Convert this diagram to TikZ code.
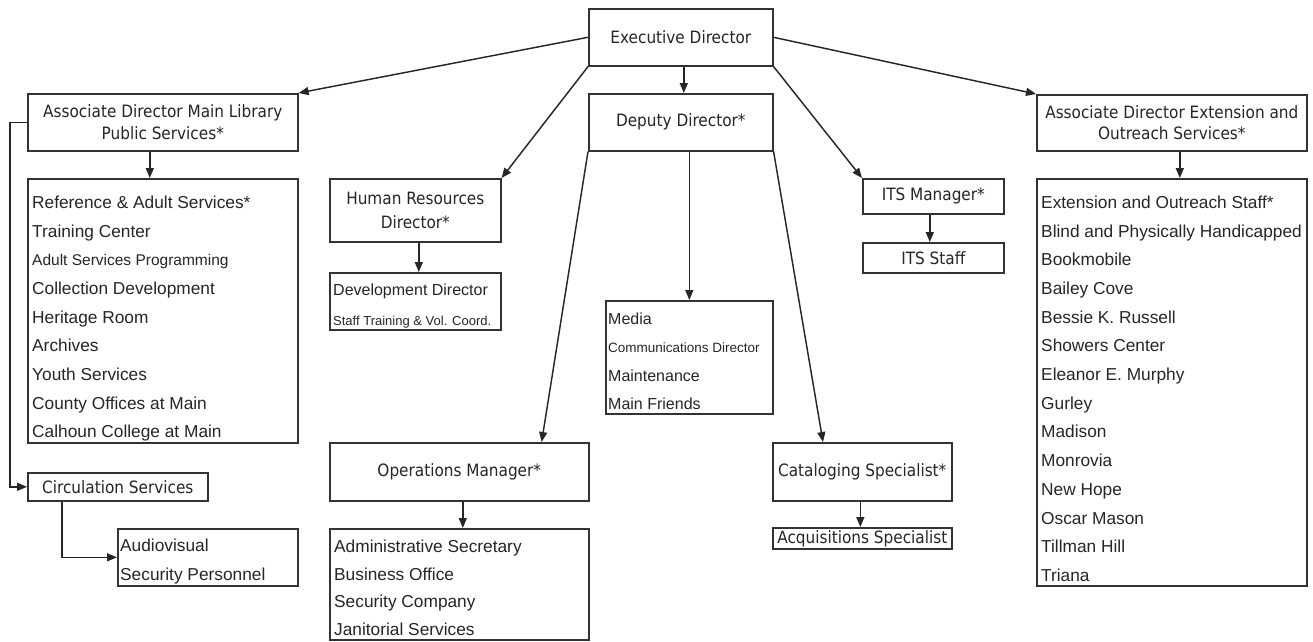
\documentclass[tikz,border=0pt]{standalone}
\usepackage{fontspec}
\setmainfont{Liberation Sans}
\newfontfamily\hfont{DejaVu Sans Condensed}
\usetikzlibrary{arrows.meta,calc}
\begin{document}
\begin{tikzpicture}[x=1pt,y=-1pt,
  box/.style={draw=black!80, line width=1.6pt, anchor=north west, inner sep=0pt, text=black!85},
  hd/.style={font=\hfont\fontsize{17}{22}\selectfont, align=center},
  lst/.style={font=\fontsize{17.3}{28.7}\selectfont, text=black!85, align=left, anchor=north west, inner sep=0pt},
  arr/.style={draw=black!85, line width=1.45pt, -{Triangle[length=10pt,width=8pt]}}]
\useasboundingbox[fill=white] (0,0) rectangle (1313,641);

% header boxes
\node[box,hd,minimum width=184pt,minimum height=57pt] (exec) at (588,8) {Executive Director};
\node[box,hd,minimum width=184pt,minimum height=57pt] (deputy) at (588,93) {Deputy Director*};
\node[box,hd,minimum width=270pt,minimum height=57pt] (adml) at (27,93) {Associate Director Main Library\\Public Services*};
\node[box,hd,minimum width=270pt,minimum height=56pt,font=\hfont\fontsize{17}{21}\selectfont] (ext) at (1036,94) {Associate Director Extension and\\Outreach Services*};
\node[box,hd,minimum width=171pt,minimum height=63pt,font=\hfont\fontsize{17}{24}\selectfont] (hr) at (329,178) {Human Resources\\Director*};
\node[box,hd,minimum width=141pt,minimum height=35pt] (its) at (862,178) {ITS Manager*};
\node[box,hd,minimum width=141pt,minimum height=30pt] (itsstaff) at (862,242) {ITS Staff};
\node[box,hd,minimum width=180pt,minimum height=28pt] (circ) at (27,472) {Circulation Services};
\node[box,hd,minimum width=259pt,minimum height=58pt] (ops) at (329,442) {Operations Manager*};
\node[box,hd,minimum width=179pt,minimum height=58pt] (cat) at (772,442) {Cataloging Specialist*};
\node[box,hd,minimum width=179pt,minimum height=21pt] (acq) at (772,527) {Acquisitions Specialist};

% list boxes
\node[box,minimum width=270pt,minimum height=264pt] (reflist) at (27,178) {};
\node[box,minimum width=180pt,minimum height=57pt] (av) at (117,528) {};
\node[box,minimum width=171pt,minimum height=57pt] (dev) at (329,272) {};
\node[box,minimum width=259pt,minimum height=111pt] (opslist) at (329,528) {};
\node[box,minimum width=167pt,minimum height=113pt] (media) at (605,300) {};
\node[box,minimum width=270pt,minimum height=407pt] (extlist) at (1036,178) {};

% list texts
\node[lst] (reftext) at ($(reflist.north west)+(5,17.6)$) {Reference \& Adult Services*\\Training Center\\{\fontsize{15.5}{28.7}\selectfont Adult Services Programming}\\Collection Development\\Heritage Room\\Archives\\Youth Services\\County Offices at Main\\Calhoun College at Main};
\node[lst,font=\fontsize{17.3}{29}\selectfont] (avtext) at ($(av.north west)+(3,10.6)$) {Audiovisual\\Security Personnel};
\node[lst,font=\fontsize{16}{30}\selectfont] (devtext) at ($(dev.north west)+(4,11.6)$) {Development Director\\{\fontsize{13}{30}\selectfont Staff Training \& Vol. Coord.}};
\node[lst,font=\fontsize{17.3}{27.7}\selectfont] (opstext) at ($(opslist.north west)+(5,11.6)$) {Administrative Secretary\\Business Office\\Security Company\\Janitorial Services};
\node[lst,font=\fontsize{16}{28.5}\selectfont] (mediatext) at ($(media.north west)+(3,12.6)$) {Media\\{\fontsize{13.5}{28.5}\selectfont Communications Director}\\Maintenance\\Main Friends};
\node[lst] (exttext) at ($(extlist.north west)+(5,17.6)$) {Extension and Outreach Staff*\\Blind and Physically Handicapped\\Bookmobile\\Bailey Cove\\Bessie K. Russell\\Showers Center\\Eleanor E. Murphy\\Gurley\\Madison\\Monrovia\\New Hope\\Oscar Mason\\Tillman Hill\\Triana};

% connectors
\draw[arr] (exec.west) -- (adml.north east);
\draw[arr] (exec.east) -- (ext.north west);
\draw[arr] (exec.south west) -- (hr.north east);
\draw[arr] (exec.south east) -- (its.north west);
\draw[arr] ($(exec.south)+(3,0)$) -- ($(deputy.north)+(3,0)$);
\draw[arr] (deputy.south west) -- ($(ops.north east)+(-48,0)$);
\draw[arr] (deputy.south east) -- ($(cat.north west)+(51,0)$);
\draw[arr] (media.north |- deputy.south) -- (media.north);
\draw[arr] ($(adml.south)+(-13,0)$) -- ($(reflist.north)+(-13,0)$);
\draw[arr] ($(ext.south)+(8,0)$) -- ($(extlist.north)+(8,0)$);
\draw[arr] ($(hr.south)+(3.5,0)$) -- ($(dev.north)+(3.5,0)$);
\draw[arr] ($(ops.south)+(3.5,0)$) -- ($(opslist.north)+(3.5,0)$);
\draw[arr] ($(its.south)+(-3.5,0)$) -- ($(itsstaff.north)+(-3.5,0)$);
\draw[arr] ($(cat.south)+(-2,0)$) -- ($(acq.north)+(-2,0)$);
\draw[arr] (adml.west) -- ++(-17,0) |- (circ.west);
\draw[arr] ($(circ.south west)+(35,0)$) |- (av.west);
\end{tikzpicture}
\end{document}
